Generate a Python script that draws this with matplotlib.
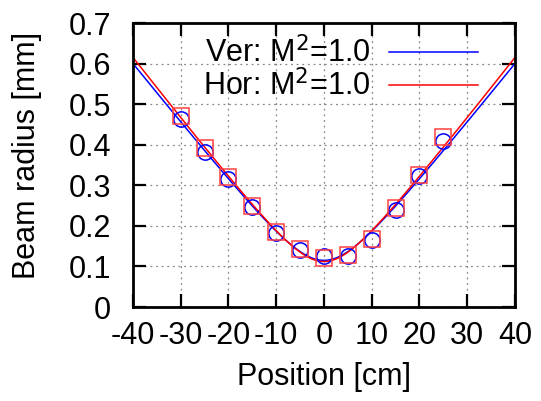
import numpy as np
import matplotlib.pyplot as plt

plt.rcParams['font.family'] = ['Liberation Sans', 'DejaVu Sans']
plt.rcParams['axes.unicode_minus'] = False

# measured beam radius [mm] vs. position [cm]
pos = [-30, -25, -20, -15, -10, -5, 0, 5, 10, 15, 20, 25]
ver = [0.463, 0.382, 0.315, 0.246, 0.183, 0.140, 0.126, 0.126, 0.165, 0.239, 0.323, 0.409]
hor = [0.470, 0.392, 0.320, 0.250, 0.186, 0.143, 0.121, 0.127, 0.167, 0.243, 0.325, 0.419]

# gaussian beam fit parameters
wavelength = 532e-6  # mm
m2_ver, w0_ver, z0_ver = 1.0, 0.115, 0.0
m2_hor, w0_hor, z0_hor = 1.0, 0.112, 0.0


def beam(z_cm, w0, z0, m2):
    zr = np.pi * w0 ** 2 / (m2 * wavelength) / 10.0  # cm
    return w0 * np.sqrt(1 + ((z_cm - z0) / zr) ** 2)


z = np.linspace(-40, 40, 400)

fig = plt.figure(figsize=(5.41, 4.01), dpi=100)
ax = fig.add_axes([0.2458, 0.2344, 0.7061, 0.7082])

ax.plot(z, beam(z, w0_ver, z0_ver, m2_ver), color='blue', lw=1.1,
        label='Ver: M$^2$=%.1f' % m2_ver)
ax.plot(z, beam(z, w0_hor, z0_hor, m2_hor), color='red', lw=1.1,
        label='Hor: M$^2$=%.1f' % m2_hor)
ax.plot(pos, ver, 'o', ms=11, mfc='none', mec='blue', mew=1.1)
ax.plot(pos, hor, 's', ms=11, mfc='none', mec='#ff4040', mew=1.1)

ax.set_xlim(-40, 40)
ax.set_ylim(0, 0.7)
ax.set_xticks(np.arange(-40, 41, 10))
ax.set_yticks(np.arange(0, 0.71, 0.1))
ax.set_yticklabels(['0', '0.1', '0.2', '0.3', '0.4', '0.5', '0.6', '0.7'])
ax.tick_params(direction='in', length=9.5, width=1.6, labelsize=22,
               top=True, right=True)
ax.tick_params(axis='x', pad=10)
ax.tick_params(axis='y', pad=16)
for s in ax.spines.values():
    s.set_linewidth(2)
ax.grid(True, color='#888888', ls=(0, (1.5, 3)), lw=0.9)

ax.set_xlabel('Position [cm]', fontsize=22, labelpad=8)
ax.set_ylabel('Beam radius [mm]', fontsize=22)
ax.yaxis.set_label_coords(-0.238, 0.535)

ax.legend(loc='upper right', bbox_to_anchor=(0.926, 0.982), frameon=False,
          markerfirst=False, fontsize=22, handlelength=2.9,
          handletextpad=0.6, labelspacing=0.0, borderaxespad=0.1,
          borderpad=0.2)

fig.savefig('out.png', dpi=100)
